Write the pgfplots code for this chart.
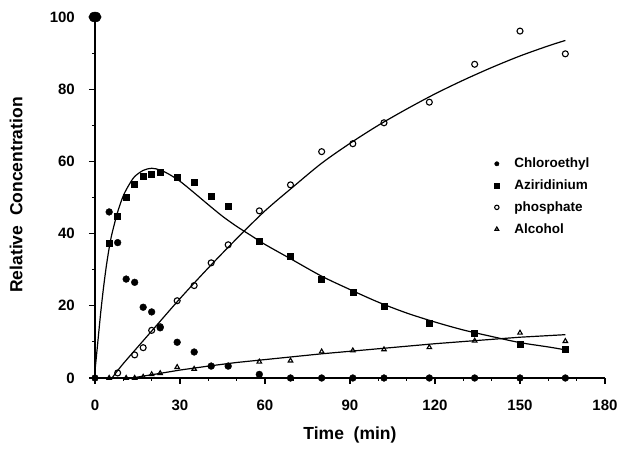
\documentclass[border=0pt]{standalone}
\usepackage{pgfplots}
\pgfplotsset{compat=1.18}
\usepackage{fontspec}
\setmainfont{Liberation Sans}
\begin{document}
\begin{tikzpicture}
\useasboundingbox (-95pt,-76pt) rectangle (529pt,378pt);
\begin{axis}[
  scale only axis, width=510pt, height=361pt,
  xmin=0, xmax=180, ymin=0, ymax=100,
  axis x line=bottom, axis y line=left,
  axis line style={-, line width=1.6pt},
  xtick={0,30,...,180}, ytick={0,20,...,100},
  minor x tick num=2, minor y tick num=1,
  tick align=outside,
  major tick length=6pt, minor tick length=3pt,
  tick style={line width=1.1pt, black},
  /pgf/number format/assume math mode=true,
  ticklabel style={font=\bfseries\fontsize{15}{17}\selectfont},
  xticklabel style={anchor=north, inner sep=0pt, yshift=-16pt},
  yticklabel style={anchor=east, inner sep=0pt, xshift=-14pt},
  xlabel={\bfseries Time~~(min)},
  ylabel={\bfseries Relative~~Concentration},
  label style={font=\bfseries\fontsize{17.5}{20}\selectfont},
  xlabel style={at={(axis description cs:0.5,0)}, anchor=center, yshift=-57pt},
  ylabel style={at={(axis description cs:0,0.507)}, anchor=center, yshift=79pt},
  clip=false,
  legend style={at={(axis cs:140.5,61.5)}, anchor=north west, draw=none, fill=none,
    inner sep=0pt, font=\bfseries\fontsize{13.5}{15}\selectfont, row sep=6.5pt,
    legend cell align=left},
  legend image code/.code={\path (-3pt,0) (15pt,0); \draw[#1, mark size=2.2pt] plot coordinates {(0pt,0pt)};},
]
% data points
\addplot[only marks, mark=*, mark size=3.4pt, black] coordinates {
 (5,46) (8,37.5) (11,27.4) (14,26.5) (17,19.6) (20,18.3) (23,13.9) (29,9.9) (35,7.2)
 (41,3.3) (47,3.3) (58,1) (69,0) (80,0) (91,0) (102,0) (118,0) (134,0) (150,0) (166,0) (0,0)};
\addlegendentry{Chloroethyl}
\addplot[only marks, mark=square*, mark size=3pt, black] coordinates {
 (5,37.3) (8,44.9) (11,50) (14,53.6) (17,56) (20,56.4) (23,57) (29,55.6) (35,54.3)
 (41,50.3) (47,47.5) (58,38) (69,33.8) (80,27.4) (91,23.8) (102,19.9) (118,15.1)
 (134,12.4) (150,9.3) (166,7.9)};
\addlegendentry{Aziridinium}
\addplot[only marks, mark=o, mark size=3pt, black, line width=1.1pt] coordinates {
 (8,1.4) (14,6.4) (17,8.4) (20,13.2) (23,14.2) (29,21.4) (35,25.6) (41,31.9) (47,36.9)
 (58,46.3) (69,53.5) (80,62.7) (91,64.9) (102,70.7) (118,76.4) (134,86.9) (150,96.1) (166,89.8)};
\addlegendentry{phosphate}
\addplot[only marks, mark=triangle, mark size=2.6pt, black, line width=1.1pt] coordinates {
 (5,0) (11,0) (14,0) (17,0.3) (20,1) (23,1.3) (29,3) (35,2.5) (41,3.3) (47,3.3)
 (58,4.5) (69,4.8) (80,7.3) (91,7.6) (102,7.9) (118,8.5) (134,10.3) (150,12.5) (166,10.2)};
\addlegendentry{Alcohol}
% large initial point
\addplot[only marks, mark=*, mark size=5pt, mark options={xscale=1.25}, black, forget plot] coordinates {(0,100)};
% fitted curves
\addplot[black, line width=1.2pt, smooth, forget plot] coordinates {
 (0,2) (1,10) (2,18) (3,25) (4,31) (5,36) (6,40) (8,46) (10,50.5) (12,53.5) (14,55.8)
 (17,57.5) (20,58.1) (23,57.6) (26,56.5) (30,54.5) (35,51.3) (40,48) (45,44.8) (50,42)
 (55,39.5) (60,37) (70,32.6) (80,28.2) (90,24.5) (100,21) (110,18) (120,15.5) (130,13.3)
 (140,11.5) (150,9.8) (160,8.6) (166,7.8)};
\addplot[black, line width=1.2pt, smooth, forget plot] coordinates {
 (6,0) (10,4) (20,13) (30,22) (40,30.5) (50,38.6) (60,46.3) (70,53) (80,59.5) (90,65)
 (100,70) (110,74.5) (120,78.7) (130,82.5) (140,86) (150,89.2) (160,92) (166,93.5)};
\addplot[black, line width=1.2pt, forget plot] coordinates {
 (13,0) (20,0.9) (30,2.2) (40,3.3) (50,4.3) (60,5.1) (70,5.9) (80,6.7) (90,7.4) (100,8.1)
 (110,8.8) (120,9.5) (130,10.1) (140,10.7) (150,11.3) (166,12)};
\addplot[black, line width=1.2pt, forget plot] coordinates {(0,0) (166,0)};
\end{axis}
\end{tikzpicture}
\end{document}
